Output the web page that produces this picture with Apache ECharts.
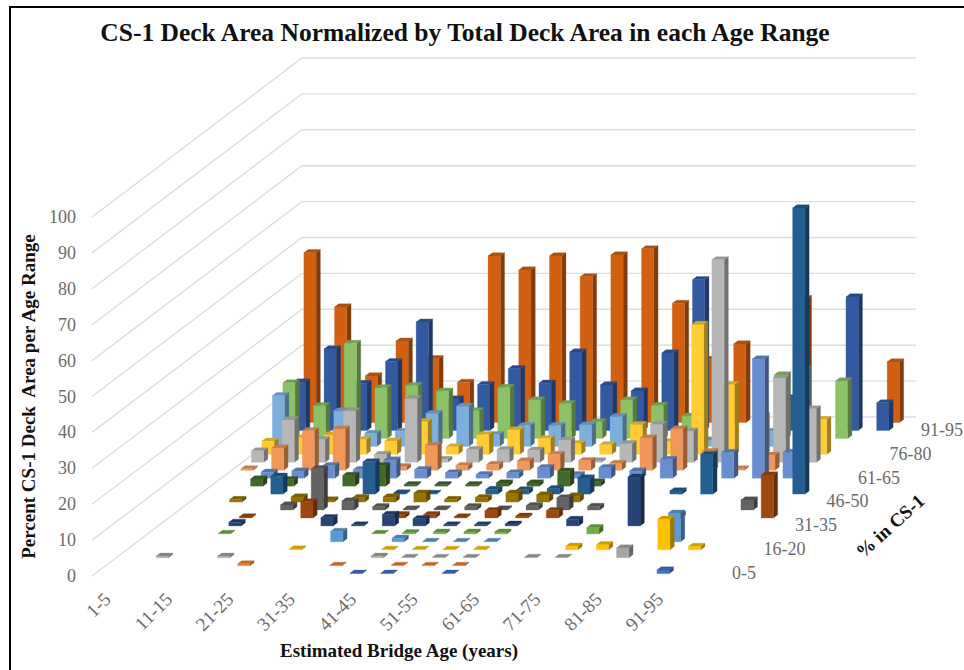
<!DOCTYPE html>
<html><head><meta charset="utf-8">
<style>html,body{margin:0;padding:0;background:#fff}#c{width:964px;height:670px}</style>
<script src="https://cdn.jsdelivr.net/npm/echarts@6/dist/echarts.min.js"></script>
</head><body><div id="c"></div>
<script>
const ageCategories = ['1-5','6-10','11-15','16-20','21-25','26-30','31-35','36-40','41-45','46-50','51-55','56-60','61-65','66-70','71-75','76-80','81-85','86-90','91-95','96-100'];
const pctCategories = ['0-5','6-10','11-15','16-20','21-25','26-30','31-35','36-40','41-45','46-50','51-55','56-60','61-65','66-70','71-75','76-80','81-85','86-90','91-95','96-100'];
const yTicks = [0,10,20,30,40,50,60,70,80,90,100];
const _ = null;
// values per age category, one list per "% in CS-1" row
const pct0   = [_,_,_,_,_,_,_,_,.1,.1,_,.1,_,_,_,_,_,_,1,_];
const pct1   = [_,_,_,_,.5,_,_,.1,_,.1,.1,.1,_,_,_,_,_,_,_,_];
const pct2   = [_,.4,_,.4,_,_,_,_,.4,.1,.1,.1,_,.1,.1,_,2.7,_,_,_];
const pct3   = [_,_,_,_,_,.2,_,_,.1,.1,.1,.1,_,_,1,1.4,_,8.5,.9,_];
const pct4   = [_,_,_,_,_,_,2.9,_,1,.1,.1,.1,_,_,_,_,_,8,_,_];
const pct5   = [_,_,.1,_,_,_,_,.1,.3,.5,.5,.5,_,_,1.7,_,_,_,_,_];
const pct6   = [_,_,1,_,_,2.3,.3,3.2,2,.3,.3,.5,_,1.8,_,13.6,_,_,_,_];
const pct7   = [_,_,.3,_,4.5,_,_,.9,.9,.3,2,.5,2,_,_,_,.9,_,_,12];
const pct8   = [_,_,_,1.4,11.5,2.5,.9,.3,.3,.9,.3,1.2,3.4,1,_,_,_,_,2.8,_];
const pct9   = [_,.7,_,1.4,.6,1.2,1.4,2.5,.7,1.2,2.5,2,1.7,_,_,_,_,_,_,_];
const pct10  = [_,_,5,_,_,9,.3,.2,_,1.3,1.2,1.5,4.5,_,_,.9,11,_,_,79.7];
const pct11  = [_,2,1.8,_,3,5.7,.4,.4,.4,.9,.9,4.2,1.2,_,_,_,_,_,_,_];
const pct12  = [_,1.7,2,3.5,2.4,5.1,2.4,1.5,1,1.5,2.9,1,2.9,2,5.2,_,7.2,33.2,7.2,_];
const pct13  = [.4,6.2,11,11.5,_,1,6.9,1.3,1.6,2.6,4.4,2.7,1.9,9,11.5,5.2,.4,4.2,_,_];
const pct14  = [3.2,11.8,6.3,14.3,2.2,17.7,.8,3.5,3.5,3.4,6.2,.4,5.2,10.5,8.7,56.4,_,23.5,14.9,_];
const pct15  = [3.7,4.6,5.4,4.1,3.7,9.1,2.1,5.5,6.8,4.4,3,2.7,8.3,3.5,36.2,19.4,10.8,_,9.7,_];
const pct16  = [14.1,_,9.9,3.6,4.2,9.2,11.2,3.3,5.8,5.8,6,8.3,_,_,1.8,_,4.2,21.6,_,_];
const pct17  = [15.5,9.1,26.5,14.1,14.7,13.2,7.7,14.2,10.7,9.7,4.6,10.7,9.2,6.2,_,_,17.7,_,16,_];
const pct18  = [13.5,22.7,13.1,19.2,30.2,8.8,12.8,17.2,13.2,21.9,12.7,11,21.6,42,_,_,9.1,_,37.2,7.7];
const pct19  = [47.3,32.2,13,22.7,17.8,11.2,46.4,42.5,46.4,40.6,46.7,48.4,33.2,17.6,21.9,_,34.5,_,_,16.9];
const pctRows = [pct0,pct1,pct2,pct3,pct4,pct5,pct6,pct7,pct8,pct9,pct10,pct11,pct12,pct13,pct14,pct15,pct16,pct17,pct18,pct19];
const rowColors = ['#4472C4','#ED7D31','#A5A5A5','#FFC000','#5B9BD5','#70AD47','#264478','#9E480E','#636363','#997300','#255E91','#43682B','#698ED0','#F1975A','#B7B7B7','#FFCD33','#7CAFDD','#8CC168','#335AA1','#D26012'];

// oblique projection: screen offset of one "% in CS-1" step
const stepX = 10.5, stepY = 7.95, barFrac = 0.4;
const FONT = '"Liberation Serif","Times New Roman",serif';

function shade(hex, k){
  const n = parseInt(hex.slice(1),16);
  const f = s => Math.round(((n>>s)&255)*k);
  return 'rgb('+f(16)+','+f(8)+','+f(0)+')';
}
function barRender(r, color){
  const side = shade(color,.62), top = shade(color,.82);
  return function(params, api){
    const c = api.value(0), v = api.value(1);
    const cw = api.size([1,0])[0];
    const b = api.coord([c,0]), t = api.coord([c,v]);
    const w = cw*barFrac, dx = stepX*barFrac, dy = stepY*barFrac;
    const x = b[0]-w/2+(r+.3)*stepX;
    const y0 = b[1]-(r+.3)*stepY;
    const y1 = t[1]-(r+.3)*stepY;
    const poly = (pts,fill)=>({type:'polygon',shape:{points:pts},style:{fill:fill,stroke:fill,lineWidth:.3}});
    return {type:'group',children:[
      poly([[x+w,y0],[x+w+dx,y0-dy],[x+w+dx,y1-dy],[x+w,y1]],side),
      poly([[x,y1],[x+w,y1],[x+w+dx,y1-dy],[x+dx,y1-dy]],top),
      poly([[x,y0],[x+w,y0],[x+w,y1],[x,y1]],color)
    ]};
  };
}
const series = [{
  type:'custom',name:'wall',silent:true,z:1,
  data:yTicks.map(v=>[0,v]),
  renderItem(params,api){
    const cw = api.size([1,0])[0];
    const p = api.coord([0,api.value(1)]), e = api.coord([19,api.value(1)]);
    const x0 = p[0]-cw/2, x2 = e[0]+cw/2, dx = stepX*20, dy = stepY*20;
    return {type:'polyline',shape:{points:[[x0,p[1]],[x0+dx,p[1]-dy],[x2+dx,p[1]-dy]]},
      style:{stroke:'#DEDEDE',lineWidth:1.4,fill:null}};
  }
}];
for(let r=19;r>=0;r--){
  const d=[]; pctRows[r].forEach((v,c)=>{ if(v!==null) d.push([c,v]); });
  series.push({type:'custom',name:pctCategories[r],silent:true,z:2,clip:false,data:d,renderItem:barRender(r,rowColors[r])});
}
series.push({
  type:'custom',name:'% in CS-1 labels',silent:true,z:3,clip:false,
  data:pctCategories.map((n,i)=>[19,i]).filter(d=>d[1]%3===0&&d[1]<19),
  renderItem(params,api){
    const r = api.value(1), cw = api.size([1,0])[0];
    const e = api.coord([19,0]);
    return {type:'text',style:{text:pctCategories[r],x:e[0]+cw/2+26+r*stepX,y:e[1]-3-r*stepY,
      font:'18px '+FONT,fill:'#6b6b6b',textAlign:'left',textVerticalAlign:'middle'}};
  }
});
const chart = echarts.init(document.getElementById('c'),null,{renderer:'svg'});
chart.setOption({
  animation:false,
  backgroundColor:'#fff',
  title:{text:'CS-1 Deck Area Normalized by Total Deck Area in each Age Range',left:460,top:14,textAlign:'center',
    textStyle:{fontFamily:FONT,fontWeight:'bold',fontSize:25.5,color:'#111'}},
  grid:{left:92,top:217,width:614,height:359},
  xAxis:{type:'category',data:ageCategories,
    axisLine:{show:false},axisTick:{show:false},splitLine:{show:false},
    axisLabel:{interval:1,rotate:45,margin:20,fontFamily:FONT,fontSize:19,color:'#6b6b6b'},
    name:'Estimated Bridge Age (years)',nameLocation:'middle',nameGap:65,
    nameTextStyle:{fontFamily:FONT,fontWeight:'bold',fontSize:19,color:'#111'}},
  yAxis:{type:'value',min:0,max:100,interval:10,
    axisLine:{show:false},axisTick:{show:false},splitLine:{show:false},
    axisLabel:{margin:16,fontFamily:FONT,fontSize:18,color:'#6b6b6b'},
    name:'Percent CS-1 Deck  Area per Age Range',nameLocation:'middle',nameGap:51,
    nameTextStyle:{fontFamily:FONT,fontWeight:'bold',fontSize:19,color:'#111'}},
  graphic:[
    {type:'polyline',shape:{points:[[10,670],[10,7],[964,7]]},style:{stroke:'#000',lineWidth:2,fill:null}},
    {type:'text',x:890,y:526,rotation:42*Math.PI/180,style:{text:'% in CS-1',font:'bold 19px '+FONT,fill:'#111',textAlign:'center',textVerticalAlign:'middle'}}
  ],
  series:series
});
</script></body></html>
